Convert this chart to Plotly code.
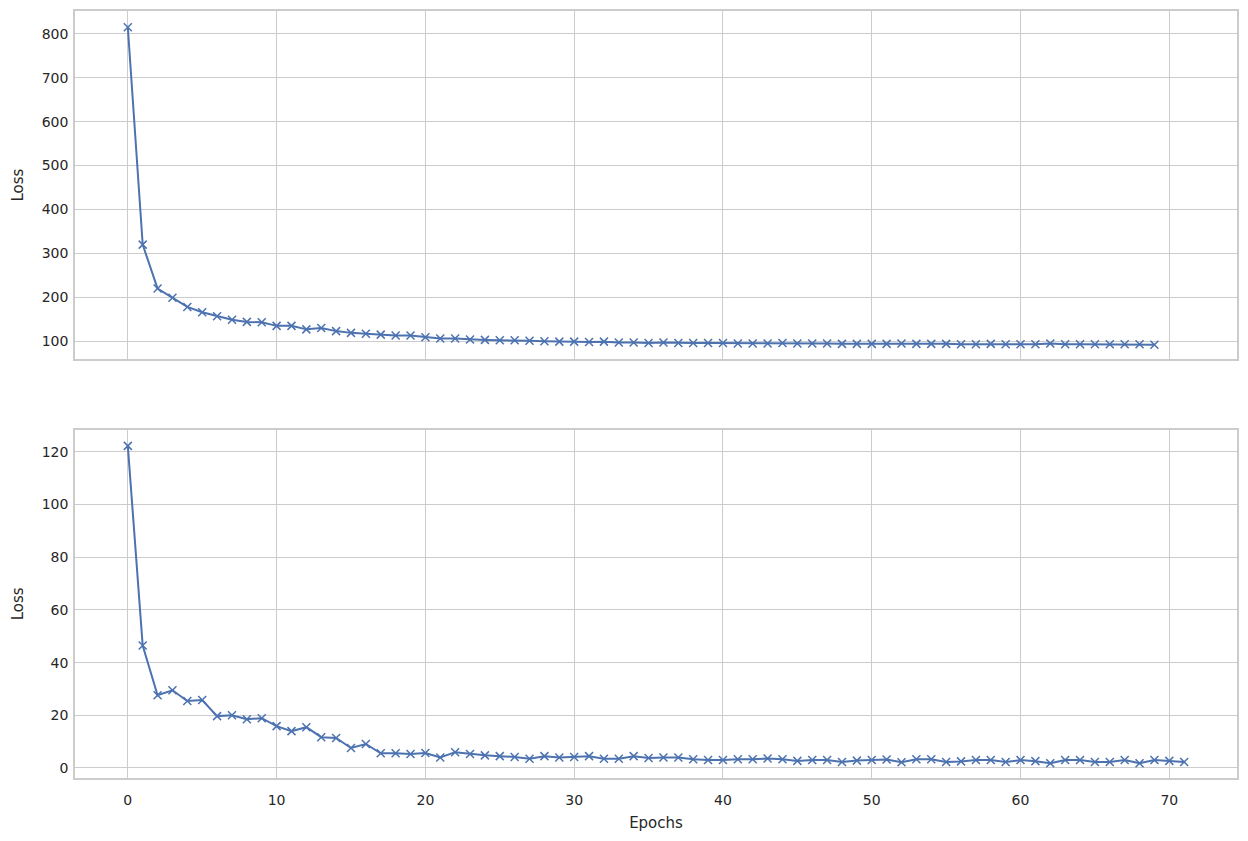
import plotly.graph_objects as go
from plotly.subplots import make_subplots

# Loss per epoch, first run (70 epochs)
epochs_top = list(range(70))
loss_top = [815, 320, 220, 199, 178, 166, 157, 149, 144, 143,
            135, 135, 127, 130, 123, 119, 117, 115, 113, 113,
            109, 106, 106, 104, 103, 102, 102, 101, 100, 99,
            99, 98, 99, 97, 97, 96, 97, 96, 96, 96,
            96, 95, 95, 95, 96, 95, 95, 95, 94, 94,
            94, 94, 95, 94, 94, 94, 93, 93, 94, 93,
            93, 93, 95, 93, 93, 93, 93, 93, 93, 92]

# Loss per epoch, second run (72 epochs)
epochs_bottom = list(range(72))
loss_bottom = [122.3, 46.5, 27.6, 29.5, 25.4, 25.8, 19.7, 20.0, 18.5, 18.9,
               15.9, 14.0, 15.5, 11.7, 11.4, 7.6, 9.1, 5.6, 5.6, 5.3,
               5.7, 4.0, 6.0, 5.3, 4.8, 4.5, 4.2, 3.5, 4.5, 4.0,
               4.2, 4.5, 3.5, 3.5, 4.5, 3.8, 4.0, 4.0, 3.3, 3.0,
               3.0, 3.3, 3.3, 3.6, 3.3, 2.7, 3.0, 3.0, 2.3, 2.8,
               3.0, 3.2, 2.2, 3.3, 3.3, 2.3, 2.5, 3.0, 3.0, 2.3,
               3.0, 2.6, 1.8, 3.0, 3.0, 2.3, 2.3, 3.0, 1.8, 3.0,
               2.7, 2.3]

blue = "#4c72b0"
grid = "#cccccc"
font = "DejaVu Sans"
text_col = "#262626"

fig = make_subplots(rows=2, cols=1, shared_xaxes=True, vertical_spacing=0.092)

for row, (x, y) in enumerate([(epochs_top, loss_top), (epochs_bottom, loss_bottom)], start=1):
    fig.add_trace(go.Scatter(
        x=x, y=y, mode="lines+markers",
        line=dict(color=blue, width=2),
        marker=dict(symbol="x-thin", size=8, color=blue, line=dict(color=blue, width=1.5)),
        showlegend=False,
    ), row=row, col=1)

axis_style = dict(
    showgrid=True, gridcolor=grid, gridwidth=1,
    showline=True, linecolor=grid, linewidth=1.6, mirror=True,
    zeroline=False, ticks="", ticklen=0,
    tickfont=dict(family=font, size=14, color=text_col),
)

fig.update_xaxes(**axis_style, range=[-3.55, 74.55], dtick=10, ticklabelstandoff=8)
fig.update_xaxes(title=dict(text="Epochs", font=dict(family=font, size=15, color=text_col), standoff=11),
                 row=2, col=1)
fig.update_yaxes(**axis_style, ticklabelstandoff=2)
fig.update_yaxes(range=[59, 852], dtick=100, row=1, col=1,
                 title=dict(text="Loss", font=dict(family=font, size=15, color=text_col), standoff=14))
fig.update_yaxes(range=[-3.8, 128.4], dtick=20, row=2, col=1,
                 title=dict(text="Loss", font=dict(family=font, size=15, color=text_col), standoff=14))

# page body adds an 8px offset, so margins are shifted to compensate
fig.update_layout(
    width=1248, height=841,
    margin=dict(l=67, r=19, t=1, b=71),
    paper_bgcolor="white", plot_bgcolor="white",
    font=dict(family=font, color=text_col),
)

fig.write_html("out.html")
